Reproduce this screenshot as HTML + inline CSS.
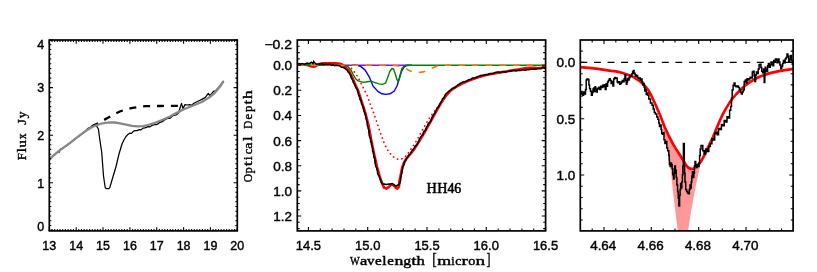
<!DOCTYPE html>
<html><head><meta charset="utf-8"><title>Spectra</title>
<style>
html,body{margin:0;padding:0;background:#fff;}
svg{display:block;will-change:transform;}
.t{font-family:"Liberation Sans",sans-serif;font-size:12.5px;fill:#000;stroke:#000;stroke-width:0.4px;}
.s{font-family:"Liberation Serif",serif;font-size:13.2px;fill:#000;stroke:#000;stroke-width:0.38px;}
</style></head><body>
<svg width="817" height="272" viewBox="0 0 817 272">
<rect x="0" y="0" width="817" height="272" fill="#fff"/>
<!-- panel 1 -->
<polyline points="90.8,126.9 98.3,123.1 107.4,118.1 113.0,114.9 119.8,111.5 126.0,109.4 132.5,107.9 139.0,106.8 145.7,106.2 152.0,106.0 159.8,106.0 170.0,105.8 178.0,105.8" fill="none" stroke="#000" stroke-width="2.3" stroke-dasharray="7,6.9" stroke-dashoffset="-1.2"/>
<polyline points="49.4,159.0 55.0,154.6 58.0,151.4 59.0,152.4 60.5,149.0 62.0,148.9 70.0,143.2 75.0,139.0 80.0,135.4 86.0,130.6 88.0,128.4 90.0,127.6 93.0,125.6 95.5,124.6 96.6,126.2 98.4,129.0 100.0,141.0 101.7,152.0 103.5,176.0 105.2,187.5 106.2,188.6 108.8,188.6 109.8,187.6 112.0,180.0 115.9,167.0 119.0,154.0 122.0,144.0 123.9,140.0 126.0,136.5 128.0,134.4 129.7,133.2 131.5,133.4 133.0,131.6 134.6,130.7 137.0,130.6 139.6,129.7 141.0,129.9 142.9,128.2 145.0,127.9 147.9,126.6 150.0,126.8 152.0,125.4 155.0,124.4 157.0,124.6 159.0,122.9 162.7,121.4 165.0,119.6 168.0,118.2 170.0,118.3 173.0,115.6 176.0,115.0 178.6,113.0 180.0,108.0 181.5,103.4 183.0,108.6 185.0,104.6 187.0,105.0 189.8,104.6 191.0,105.6 194.4,103.0 198.0,101.2 201.8,99.4 205.4,97.4 208.2,93.3 210.0,95.7 213.7,91.1 215.5,91.0 220.1,85.6 223.6,80.8" fill="none" stroke="#000" stroke-width="1.25" stroke-linejoin="round"/>
<polyline points="49.4,158.9 60.0,150.2 70.0,142.8 80.0,135.1 86.0,130.7 90.0,128.2 95.0,125.8 100.0,124.0 105.0,122.8 109.8,122.3 115.0,122.5 120.0,123.3 126.0,124.6 132.0,125.8 137.9,126.4 143.0,126.1 148.0,125.0 155.0,122.8 162.7,119.7 170.0,116.5 174.2,114.1 183.4,109.5 192.6,105.8 201.8,102.0 209.1,97.6 214.6,93.0 220.1,86.5 223.6,81.2" fill="none" stroke="#888" stroke-width="2.3" stroke-linejoin="round"/>
<path d="M49.3,230.9v-3.7M49.3,40.0v3.7M52.0,230.9v-2.0M52.0,40.0v2.0M54.7,230.9v-2.0M54.7,40.0v2.0M57.4,230.9v-2.0M57.4,40.0v2.0M60.0,230.9v-2.0M60.0,40.0v2.0M62.7,230.9v-2.0M62.7,40.0v2.0M65.4,230.9v-2.0M65.4,40.0v2.0M68.1,230.9v-2.0M68.1,40.0v2.0M70.8,230.9v-2.0M70.8,40.0v2.0M73.5,230.9v-2.0M73.5,40.0v2.0M76.2,230.9v-3.7M76.2,40.0v3.7M78.8,230.9v-2.0M78.8,40.0v2.0M81.5,230.9v-2.0M81.5,40.0v2.0M84.2,230.9v-2.0M84.2,40.0v2.0M86.9,230.9v-2.0M86.9,40.0v2.0M89.6,230.9v-2.0M89.6,40.0v2.0M92.3,230.9v-2.0M92.3,40.0v2.0M95.0,230.9v-2.0M95.0,40.0v2.0M97.6,230.9v-2.0M97.6,40.0v2.0M100.3,230.9v-2.0M100.3,40.0v2.0M103.0,230.9v-3.7M103.0,40.0v3.7M105.7,230.9v-2.0M105.7,40.0v2.0M108.4,230.9v-2.0M108.4,40.0v2.0M111.1,230.9v-2.0M111.1,40.0v2.0M113.8,230.9v-2.0M113.8,40.0v2.0M116.4,230.9v-2.0M116.4,40.0v2.0M119.1,230.9v-2.0M119.1,40.0v2.0M121.8,230.9v-2.0M121.8,40.0v2.0M124.5,230.9v-2.0M124.5,40.0v2.0M127.2,230.9v-2.0M127.2,40.0v2.0M129.9,230.9v-3.7M129.9,40.0v3.7M132.6,230.9v-2.0M132.6,40.0v2.0M135.2,230.9v-2.0M135.2,40.0v2.0M137.9,230.9v-2.0M137.9,40.0v2.0M140.6,230.9v-2.0M140.6,40.0v2.0M143.3,230.9v-2.0M143.3,40.0v2.0M146.0,230.9v-2.0M146.0,40.0v2.0M148.7,230.9v-2.0M148.7,40.0v2.0M151.4,230.9v-2.0M151.4,40.0v2.0M154.0,230.9v-2.0M154.0,40.0v2.0M156.7,230.9v-3.7M156.7,40.0v3.7M159.4,230.9v-2.0M159.4,40.0v2.0M162.1,230.9v-2.0M162.1,40.0v2.0M164.8,230.9v-2.0M164.8,40.0v2.0M167.5,230.9v-2.0M167.5,40.0v2.0M170.2,230.9v-2.0M170.2,40.0v2.0M172.8,230.9v-2.0M172.8,40.0v2.0M175.5,230.9v-2.0M175.5,40.0v2.0M178.2,230.9v-2.0M178.2,40.0v2.0M180.9,230.9v-2.0M180.9,40.0v2.0M183.6,230.9v-3.7M183.6,40.0v3.7M186.3,230.9v-2.0M186.3,40.0v2.0M189.0,230.9v-2.0M189.0,40.0v2.0M191.6,230.9v-2.0M191.6,40.0v2.0M194.3,230.9v-2.0M194.3,40.0v2.0M197.0,230.9v-2.0M197.0,40.0v2.0M199.7,230.9v-2.0M199.7,40.0v2.0M202.4,230.9v-2.0M202.4,40.0v2.0M205.1,230.9v-2.0M205.1,40.0v2.0M207.8,230.9v-2.0M207.8,40.0v2.0M210.4,230.9v-3.7M210.4,40.0v3.7M213.1,230.9v-2.0M213.1,40.0v2.0M215.8,230.9v-2.0M215.8,40.0v2.0M218.5,230.9v-2.0M218.5,40.0v2.0M221.2,230.9v-2.0M221.2,40.0v2.0M223.9,230.9v-2.0M223.9,40.0v2.0M226.6,230.9v-2.0M226.6,40.0v2.0M229.2,230.9v-2.0M229.2,40.0v2.0M231.9,230.9v-2.0M231.9,40.0v2.0M234.6,230.9v-2.0M234.6,40.0v2.0M237.3,230.9v-3.7M237.3,40.0v3.7M49.3,230.3h3.7M237.3,230.3h-3.7M49.3,225.5h2.0M237.3,225.5h-2.0M49.3,220.8h2.0M237.3,220.8h-2.0M49.3,216.0h2.0M237.3,216.0h-2.0M49.3,211.3h2.0M237.3,211.3h-2.0M49.3,206.5h2.0M237.3,206.5h-2.0M49.3,201.8h2.0M237.3,201.8h-2.0M49.3,197.0h2.0M237.3,197.0h-2.0M49.3,192.2h2.0M237.3,192.2h-2.0M49.3,187.5h2.0M237.3,187.5h-2.0M49.3,182.7h3.7M237.3,182.7h-3.7M49.3,178.0h2.0M237.3,178.0h-2.0M49.3,173.2h2.0M237.3,173.2h-2.0M49.3,168.5h2.0M237.3,168.5h-2.0M49.3,163.7h2.0M237.3,163.7h-2.0M49.3,158.9h2.0M237.3,158.9h-2.0M49.3,154.2h2.0M237.3,154.2h-2.0M49.3,149.4h2.0M237.3,149.4h-2.0M49.3,144.7h2.0M237.3,144.7h-2.0M49.3,139.9h2.0M237.3,139.9h-2.0M49.3,135.2h3.7M237.3,135.2h-3.7M49.3,130.4h2.0M237.3,130.4h-2.0M49.3,125.6h2.0M237.3,125.6h-2.0M49.3,120.9h2.0M237.3,120.9h-2.0M49.3,116.1h2.0M237.3,116.1h-2.0M49.3,111.4h2.0M237.3,111.4h-2.0M49.3,106.6h2.0M237.3,106.6h-2.0M49.3,101.8h2.0M237.3,101.8h-2.0M49.3,97.1h2.0M237.3,97.1h-2.0M49.3,92.3h2.0M237.3,92.3h-2.0M49.3,87.6h3.7M237.3,87.6h-3.7M49.3,82.8h2.0M237.3,82.8h-2.0M49.3,78.1h2.0M237.3,78.1h-2.0M49.3,73.3h2.0M237.3,73.3h-2.0M49.3,68.5h2.0M237.3,68.5h-2.0M49.3,63.8h2.0M237.3,63.8h-2.0M49.3,59.0h2.0M237.3,59.0h-2.0M49.3,54.3h2.0M237.3,54.3h-2.0M49.3,49.5h2.0M237.3,49.5h-2.0M49.3,44.8h2.0M237.3,44.8h-2.0M49.3,40.0h3.7M237.3,40.0h-3.7" stroke="#000" stroke-width="1.1" fill="none"/>
<rect x="49.3" y="40.0" width="188.0" height="190.9" fill="none" stroke="#000" stroke-width="1.7"/>
<text class="t" x="49.3" y="249.7" text-anchor="middle">13</text>
<text class="t" x="76.2" y="249.7" text-anchor="middle">14</text>
<text class="t" x="103.0" y="249.7" text-anchor="middle">15</text>
<text class="t" x="129.9" y="249.7" text-anchor="middle">16</text>
<text class="t" x="156.7" y="249.7" text-anchor="middle">17</text>
<text class="t" x="183.6" y="249.7" text-anchor="middle">18</text>
<text class="t" x="210.4" y="249.7" text-anchor="middle">19</text>
<text class="t" x="237.3" y="249.7" text-anchor="middle">20</text>
<text class="t" x="44.2" y="231.1" text-anchor="end">0</text>
<text class="t" x="44.2" y="187.5" text-anchor="end">1</text>
<text class="t" x="44.2" y="140.0" text-anchor="end">2</text>
<text class="t" x="44.2" y="92.4" text-anchor="end">3</text>
<text class="t" x="44.2" y="49.1" text-anchor="end">4</text>
<g transform="translate(26.2,0) rotate(-90)">
<text class="s" x="-160.2" y="0" textLength="7.3" lengthAdjust="spacingAndGlyphs">F</text>
<text class="s" x="-152.5" y="0" textLength="4.6" lengthAdjust="spacingAndGlyphs">l</text>
<text class="s" x="-147.5" y="0" textLength="7.3" lengthAdjust="spacingAndGlyphs">u</text>
<text class="s" x="-139.3" y="0" textLength="5.8" lengthAdjust="spacingAndGlyphs">x</text>
<text class="s" x="-124.8" y="0" textLength="5.6" lengthAdjust="spacingAndGlyphs">J</text>
<text class="s" x="-118.2" y="0" textLength="6.7" lengthAdjust="spacingAndGlyphs">y</text>
</g>
<g transform="translate(252.3,0) rotate(-90)">
<text class="s" x="-182.3" y="0" textLength="8.4" lengthAdjust="spacingAndGlyphs">O</text>
<text class="s" x="-173.5" y="0" textLength="6.2" lengthAdjust="spacingAndGlyphs">p</text>
<text class="s" x="-166.3" y="0" textLength="5.1" lengthAdjust="spacingAndGlyphs">t</text>
<text class="s" x="-160.3" y="0" textLength="4.0" lengthAdjust="spacingAndGlyphs">i</text>
<text class="s" x="-154.2" y="0" textLength="5.6" lengthAdjust="spacingAndGlyphs">c</text>
<text class="s" x="-148.8" y="0" textLength="6.2" lengthAdjust="spacingAndGlyphs">a</text>
<text class="s" x="-141.0" y="0" textLength="4.6" lengthAdjust="spacingAndGlyphs">l</text>
<text class="s" x="-128.7" y="0" textLength="8.0" lengthAdjust="spacingAndGlyphs">D</text>
<text class="s" x="-119.6" y="0" textLength="5.6" lengthAdjust="spacingAndGlyphs">e</text>
<text class="s" x="-112.1" y="0" textLength="6.4" lengthAdjust="spacingAndGlyphs">p</text>
<text class="s" x="-104.5" y="0" textLength="4.7" lengthAdjust="spacingAndGlyphs">t</text>
<text class="s" x="-99.0" y="0" textLength="8.7" lengthAdjust="spacingAndGlyphs">h</text>
</g>
<!-- panel 2 -->
<clipPath id="c2"><rect x="297.3" y="40.0" width="248.3" height="190.9"/></clipPath>
<g clip-path="url(#c2)" fill="none" stroke-linejoin="round">
<polyline points="297.3,64.6 306.0,64.8 309.0,65.6 311.5,66.5 313.5,66.7 315.5,66.2 317.5,65.0 320.0,63.8 323.0,63.3 330.0,63.2 336.0,63.3 340.0,63.8 342.5,64.8 344.2,66.2 345.5,67.6 348.3,70.0 350.2,73.3 352.4,77.8 354.6,83.0 358.0,90.5 361.6,101.5 365.6,114.0 368.2,124.0 371.8,143.1 374.4,155.5 377.0,166.8 379.8,177.0 382.4,184.0 384.0,187.6 386.3,188.6 388.5,187.4 390.5,185.2 392.0,184.4 394.0,185.6 396.0,188.0 397.5,188.6 399.0,186.4 399.5,181.0 400.5,176.2 402.1,168.0 403.9,163.0 406.1,159.0 411.0,153.2 414.5,148.6 419.0,141.6 424.4,132.5 430.0,122.6 436.6,110.6 441.0,103.0 446.5,95.0 451.0,90.2 456.4,86.6 463.0,83.0 469.7,80.2 478.0,77.2 486.2,75.0 494.0,73.4 502.8,72.0 511.0,70.6 519.3,69.4 525.0,68.4 530.0,67.8 534.0,67.9 538.0,68.2 542.0,67.8 545.6,67.4" stroke="#f00" stroke-width="2.6"/>
<polyline points="341.0,65.2 409.0,65.2" stroke="#8b12d8" stroke-width="1.6"/>
<polyline points="352.0,65.2 354.0,65.2 357.7,65.4 360.9,66.6 365.0,69.9 369.4,77.2 373.0,86.0 377.8,91.4 382.0,93.8 386.0,94.4 390.0,93.8 394.3,91.0 397.0,86.0 399.3,78.5 401.5,71.5 404.0,67.2 407.0,65.5 410.0,65.2 412.0,65.2" stroke="#0000ff" stroke-width="1.4"/>
<polyline points="297.3,65.2 343.0,65.2 345.0,65.4 348.0,66.8 350.9,69.9 353.8,75.7 356.0,79.2 358.2,80.9 362.6,82.2 366.0,82.0 368.5,81.5 371.5,81.4 375.0,82.6 379.0,83.9 382.5,84.4 385.5,83.2 387.3,78.5 389.8,71.5 392.0,68.3 393.5,69.0 395.3,74.0 396.9,79.5 397.9,81.0 398.9,80.0 400.3,74.5 401.9,68.5 404.3,65.8 406.0,65.2 545.6,65.2" stroke="#008000" stroke-width="1.4"/>
<polyline points="297.3,65.2 390.0,65.2 395.0,65.5 400.0,66.4 405.0,68.0 409.0,70.4 413.0,72.0 418.0,72.6 423.0,71.9 428.0,70.3 433.0,67.8 437.0,66.0 441.0,65.3 445.0,65.2 545.6,65.2" stroke="#f5780a" stroke-width="1.6" stroke-dasharray="6.5,7.15"/>
<polyline points="348.0,65.6 351.6,68.4 352.4,69.6 355.6,73.5 358.2,77.6 360.4,82.1 362.6,86.5 364.9,90.9 367.1,95.3 368.5,99.0 370.5,105.0 373.0,111.0 375.5,118.5 378.3,126.7 379.6,130.8 381.3,135.2 382.9,139.9 384.6,144.0 386.6,148.1 389.0,152.3 392.4,156.1 396.2,158.9 400.6,159.4 404.8,157.2 408.1,153.4 410.5,149.8 413.3,145.7 416.0,141.5 418.3,137.4 420.5,133.3 422.9,129.1 425.4,124.8 428.0,120.4 430.3,116.8 432.5,113.6 434.7,110.8 437.0,107.8" stroke="#f00" stroke-width="1.75" stroke-dasharray="0.1,4.4" stroke-linecap="round"/>
<polyline points="297.3,64.2 298.9,63.5 300.6,64.1 302.1,63.5 303.7,63.9 305.0,63.9 307.0,63.1 308.7,63.6 310.0,63.4 311.3,62.2 313.0,63.6 313.7,61.6 315.3,63.4 316.5,64.2 318.1,64.1 320.1,64.0 322.0,63.7 324.0,64.5 326.1,64.4 328.0,64.6 330.0,64.3 331.5,65.2 333.3,64.7 334.6,65.6 336.0,65.3 337.6,65.4 339.2,65.7 340.4,66.4 341.5,67.3 342.9,67.3 345.0,68.5 346.0,69.5 347.3,70.4 348.1,72.0 349.4,73.3 350.2,74.7 350.8,76.1 351.2,77.7 352.1,79.2 352.9,80.7 353.4,82.4 354.3,83.8 355.1,85.2 355.5,86.9 356.3,88.3 357.4,89.6 357.7,91.3 358.2,92.9 358.5,94.6 359.1,96.2 360.0,97.7 360.0,99.5 361.2,100.9 361.4,102.4 361.6,104.0 362.6,105.2 362.8,106.8 363.7,108.1 363.6,109.7 364.0,111.2 364.7,112.6 364.9,114.1 365.7,115.6 365.8,117.4 366.3,119.0 366.7,120.7 367.2,122.3 367.2,124.1 367.4,125.7 368.1,127.2 368.3,128.8 369.1,130.3 368.8,132.0 369.2,133.6 369.2,135.2 369.6,136.8 370.4,138.3 370.6,139.9 370.7,141.5 371.5,143.0 371.5,144.6 372.0,146.1 372.4,147.7 372.8,149.2 372.5,150.9 373.4,152.3 373.6,153.9 373.8,155.5 373.7,157.1 374.8,158.5 374.8,160.1 375.0,161.7 375.1,163.3 375.5,164.8 375.8,166.4 376.7,167.8 377.0,169.4 377.5,171.0 377.5,172.7 377.9,174.3 379.0,175.7 379.6,177.2 380.1,178.8 380.7,180.4 381.1,182.0 381.8,183.1 382.9,184.1 384.4,184.0 386.0,184.5 387.5,184.2 389.0,184.1 390.6,184.1 392.0,183.6 394.0,184.6 394.9,185.4 395.9,186.1 397.9,185.0 399.1,184.4 399.8,183.1 400.3,181.4 400.7,179.7 400.7,177.9 401.1,176.2 401.2,174.5 402.0,173.0 401.9,171.3 402.3,169.7 402.7,168.1 403.2,166.4 403.9,164.7 404.1,162.9 404.9,161.3 405.9,159.8 406.7,158.3 407.9,157.0 408.6,155.3 410.3,154.3 411.1,152.7 411.6,151.3 412.6,150.2 413.5,149.1 414.4,147.9 415.1,146.3 416.6,145.2 417.6,143.8 418.1,142.1 419.0,140.6 419.5,139.1 420.2,137.8 421.2,136.6 421.9,135.3 423.1,134.3 423.4,132.6 424.0,131.3 425.6,130.3 426.0,128.7 426.5,127.1 427.6,125.8 428.0,124.1 429.2,122.9 430.4,121.7 431.0,120.3 431.6,118.9 432.0,117.4 432.8,116.1 433.4,114.7 434.6,113.6 435.2,112.2 436.1,111.0 436.5,109.4 437.1,108.0 438.3,107.0 439.2,105.7 439.8,104.3 440.5,103.0 441.3,101.6 442.1,100.3 442.6,98.8 443.8,97.7 444.6,96.3 445.2,94.8 446.2,93.6 447.5,92.5 448.6,91.4 450.0,90.5 451.3,89.6 452.3,88.4 453.9,88.0 455.3,87.2 456.6,86.3 457.7,85.1 458.9,84.3 460.2,83.5 461.5,82.7 462.9,82.0 464.4,81.7 465.8,81.4 467.1,80.8 468.4,79.9 469.8,79.5 471.2,79.2 472.3,78.0 473.9,78.0 475.4,77.7 476.7,77.1 478.1,76.6 479.6,76.0 481.2,75.3 483.0,75.5 484.5,74.7 486.3,74.7 487.8,74.5 489.3,73.7 490.9,73.5 492.5,73.7 494.0,73.2 495.4,72.5 496.9,72.3 498.4,72.1 499.9,72.6 501.4,72.3 502.8,71.5 504.5,71.9 506.1,71.9 507.7,71.5 509.3,71.0 511.0,71.0 512.6,70.5 514.3,70.2 516.0,70.9 517.7,70.5 519.3,70.2 520.9,70.5 522.4,69.9 524.0,70.1 525.3,70.2 526.7,69.7 528.0,69.8 529.5,69.5 531.0,69.2 532.6,69.3 534.3,69.1 536.0,69.3 537.4,68.5 539.1,68.5 541.0,68.7 542.0,67.9 543.1,67.1 544.3,68.3 545.6,67.3" stroke="#000" stroke-width="1.55" stroke-linejoin="miter"/>
</g>
<path d="M308.4,230.9v-3.9M308.4,40.0v3.9M320.3,230.9v-2.4M320.3,40.0v2.4M332.1,230.9v-2.4M332.1,40.0v2.4M344.0,230.9v-2.4M344.0,40.0v2.4M355.8,230.9v-2.4M355.8,40.0v2.4M367.7,230.9v-3.9M367.7,40.0v3.9M379.6,230.9v-2.4M379.6,40.0v2.4M391.4,230.9v-2.4M391.4,40.0v2.4M403.3,230.9v-2.4M403.3,40.0v2.4M415.1,230.9v-2.4M415.1,40.0v2.4M427.0,230.9v-3.9M427.0,40.0v3.9M438.9,230.9v-2.4M438.9,40.0v2.4M450.7,230.9v-2.4M450.7,40.0v2.4M462.6,230.9v-2.4M462.6,40.0v2.4M474.4,230.9v-2.4M474.4,40.0v2.4M486.3,230.9v-3.9M486.3,40.0v3.9M498.2,230.9v-2.4M498.2,40.0v2.4M510.0,230.9v-2.4M510.0,40.0v2.4M521.9,230.9v-2.4M521.9,40.0v2.4M533.7,230.9v-2.4M533.7,40.0v2.4M545.6,230.9v-3.9M545.6,40.0v3.9M297.3,46.3h2.4M545.6,46.3h-2.4M297.3,52.6h2.4M545.6,52.6h-2.4M297.3,58.9h2.4M545.6,58.9h-2.4M297.3,65.2h3.9M545.6,65.2h-3.9M297.3,71.5h2.4M545.6,71.5h-2.4M297.3,77.8h2.4M545.6,77.8h-2.4M297.3,84.1h2.4M545.6,84.1h-2.4M297.3,90.3h3.9M545.6,90.3h-3.9M297.3,96.6h2.4M545.6,96.6h-2.4M297.3,102.9h2.4M545.6,102.9h-2.4M297.3,109.2h2.4M545.6,109.2h-2.4M297.3,115.5h3.9M545.6,115.5h-3.9M297.3,121.8h2.4M545.6,121.8h-2.4M297.3,128.1h2.4M545.6,128.1h-2.4M297.3,134.3h2.4M545.6,134.3h-2.4M297.3,140.6h3.9M545.6,140.6h-3.9M297.3,146.9h2.4M545.6,146.9h-2.4M297.3,153.2h2.4M545.6,153.2h-2.4M297.3,159.5h2.4M545.6,159.5h-2.4M297.3,165.8h3.9M545.6,165.8h-3.9M297.3,172.0h2.4M545.6,172.0h-2.4M297.3,178.3h2.4M545.6,178.3h-2.4M297.3,184.6h2.4M545.6,184.6h-2.4M297.3,190.9h3.9M545.6,190.9h-3.9M297.3,197.2h2.4M545.6,197.2h-2.4M297.3,203.5h2.4M545.6,203.5h-2.4M297.3,209.8h2.4M545.6,209.8h-2.4M297.3,216.0h3.9M545.6,216.0h-3.9M297.3,222.3h2.4M545.6,222.3h-2.4M297.3,228.6h2.4M545.6,228.6h-2.4" stroke="#000" stroke-width="1.1" fill="none"/>
<rect x="297.3" y="40.0" width="248.3" height="190.9" fill="none" stroke="#000" stroke-width="1.7"/>
<text class="t" x="295.8" y="249.8" textLength="25.3" lengthAdjust="spacingAndGlyphs">14.5</text>
<text class="t" x="355.1" y="249.8" textLength="25.3" lengthAdjust="spacingAndGlyphs">15.0</text>
<text class="t" x="414.4" y="249.8" textLength="25.3" lengthAdjust="spacingAndGlyphs">15.5</text>
<text class="t" x="473.6" y="249.8" textLength="25.3" lengthAdjust="spacingAndGlyphs">16.0</text>
<text class="t" x="532.9" y="249.8" textLength="25.3" lengthAdjust="spacingAndGlyphs">16.5</text>
<text class="t" x="264.4" y="49.2" textLength="27.6" lengthAdjust="spacingAndGlyphs">−0.2</text>
<text class="t" x="273.2" y="70.1" textLength="18.8" lengthAdjust="spacingAndGlyphs">0.0</text>
<text class="t" x="273.2" y="95.2" textLength="18.8" lengthAdjust="spacingAndGlyphs">0.2</text>
<text class="t" x="273.2" y="120.4" textLength="18.8" lengthAdjust="spacingAndGlyphs">0.4</text>
<text class="t" x="273.2" y="145.5" textLength="18.8" lengthAdjust="spacingAndGlyphs">0.6</text>
<text class="t" x="273.2" y="170.7" textLength="18.8" lengthAdjust="spacingAndGlyphs">0.8</text>
<text class="t" x="273.2" y="195.8" textLength="18.8" lengthAdjust="spacingAndGlyphs">1.0</text>
<text class="t" x="273.2" y="220.9" textLength="18.8" lengthAdjust="spacingAndGlyphs">1.2</text>
<text class="s" transform="translate(252.3,137) rotate(-90)" text-anchor="middle"></text>
<text class="s" x="349.9" y="264.6" style="font-size:13.2px;stroke-width:0.42px" textLength="9.7" lengthAdjust="spacingAndGlyphs">W</text>
<text class="s" x="359.9" y="264.6" style="font-size:13.2px;stroke-width:0.42px" textLength="7.3" lengthAdjust="spacingAndGlyphs">a</text>
<text class="s" x="367.1" y="264.6" style="font-size:13.2px;stroke-width:0.42px" textLength="7.5" lengthAdjust="spacingAndGlyphs">v</text>
<text class="s" x="374.9" y="264.6" style="font-size:13.2px;stroke-width:0.42px" textLength="6.7" lengthAdjust="spacingAndGlyphs">e</text>
<text class="s" x="382.2" y="264.6" style="font-size:13.2px;stroke-width:0.42px" textLength="4.3" lengthAdjust="spacingAndGlyphs">l</text>
<text class="s" x="387.2" y="264.6" style="font-size:13.2px;stroke-width:0.42px" textLength="6.6" lengthAdjust="spacingAndGlyphs">e</text>
<text class="s" x="394.4" y="264.6" style="font-size:13.2px;stroke-width:0.42px" textLength="8.9" lengthAdjust="spacingAndGlyphs">n</text>
<text class="s" x="403.2" y="264.6" style="font-size:13.2px;stroke-width:0.42px" textLength="8.0" lengthAdjust="spacingAndGlyphs">g</text>
<text class="s" x="411.2" y="264.6" style="font-size:13.2px;stroke-width:0.42px" textLength="5.3" lengthAdjust="spacingAndGlyphs">t</text>
<text class="s" x="416.5" y="264.6" style="font-size:13.2px;stroke-width:0.42px" textLength="8.3" lengthAdjust="spacingAndGlyphs">h</text>
<text class="s" x="432.2" y="264.6" style="font-size:17px;stroke-width:0.42px" textLength="4.4" lengthAdjust="spacingAndGlyphs">[</text>
<text class="s" x="437.2" y="264.6" style="font-size:13.2px;stroke-width:0.42px" textLength="13.9" lengthAdjust="spacingAndGlyphs">m</text>
<text class="s" x="451.3" y="264.6" style="font-size:13.2px;stroke-width:0.42px" textLength="3.4" lengthAdjust="spacingAndGlyphs">i</text>
<text class="s" x="455.2" y="264.6" style="font-size:13.2px;stroke-width:0.42px" textLength="6.0" lengthAdjust="spacingAndGlyphs">c</text>
<text class="s" x="461.5" y="264.6" style="font-size:13.2px;stroke-width:0.42px" textLength="6.4" lengthAdjust="spacingAndGlyphs">r</text>
<text class="s" x="468.2" y="264.6" style="font-size:13.2px;stroke-width:0.42px" textLength="7.0" lengthAdjust="spacingAndGlyphs">o</text>
<text class="s" x="475.6" y="264.6" style="font-size:13.2px;stroke-width:0.42px" textLength="9.6" lengthAdjust="spacingAndGlyphs">n</text>
<text class="s" x="486.5" y="264.6" style="font-size:17px;stroke-width:0.42px" textLength="4.0" lengthAdjust="spacingAndGlyphs">]</text>
<text class="s" x="426.6" y="192.9" style="font-size:13.8px;stroke-width:0.5px" textLength="10.3" lengthAdjust="spacingAndGlyphs">H</text>
<text class="s" x="437.2" y="192.9" style="font-size:13.8px;stroke-width:0.5px" textLength="10.2" lengthAdjust="spacingAndGlyphs">H</text>
<text class="s" x="447.4" y="192.9" style="font-size:13.8px;stroke-width:0.5px" textLength="6.9" lengthAdjust="spacingAndGlyphs">4</text>
<text class="s" x="454.2" y="192.9" style="font-size:13.8px;stroke-width:0.5px" textLength="7.0" lengthAdjust="spacingAndGlyphs">6</text>
<!-- panel 3 -->
<clipPath id="c3"><rect x="580.3" y="40.0" width="212.8" height="190.9"/></clipPath>
<g clip-path="url(#c3)" fill="none" stroke-linejoin="round">
<polygon points="661.0,118.5 662.4,126.0 665.0,140.0 667.2,150.0 669.5,160.0 671.2,175.0 673.0,192.0 675.2,210.0 677.8,231.2 687.9,231.2 691.0,212.0 694.6,192.0 697.5,178.0 699.6,168.0 700.8,161.6 698.6,164.4 696.0,167.0 693.6,168.6 691.0,168.9 688.5,167.8 686.0,165.1 683.5,160.8 680.7,156.3 677.0,150.6 673.4,144.6 669.0,136.5 664.6,126.8" fill="#ff9999" stroke="none"/>
<path d="M580.4,62.3H793.1" stroke="#000" stroke-width="1.2" stroke-dasharray="6.9,6.675"/>
<polyline points="580.2,67.2 596.4,68.6 611.0,70.8 616.0,71.4 621.9,72.7 627.8,74.8 633.6,77.0 639.5,80.8 644.6,85.5 648.5,90.4 651.0,95.0 655.6,104.8 660.0,115.0 664.6,126.8 669.0,136.5 673.4,144.6 677.0,150.6 680.7,156.3 683.5,160.8 686.0,165.1 688.5,167.8 691.0,168.9 693.6,168.6 696.0,167.0 698.6,164.4 701.5,160.6 704.7,154.6 707.3,149.0 710.1,143.2 713.0,137.0 716.5,128.6 720.0,120.2 723.1,113.6 726.5,107.6 729.8,102.4 733.0,98.0 736.4,94.0 740.5,89.8 744.7,86.0 749.5,82.4 754.6,79.2 759.5,76.8 764.5,74.9 771.0,72.9 777.8,71.4 785.0,70.1 793.5,68.8" stroke="#f00" stroke-width="2.7"/>
<path d="M580.3,94.0H580.6V93.1H581.4V91.6H582.1V94.6H582.9V95.3H583.7V92.1H584.6V94.1H585.5V89.4H586.2V79.9H587.0V79.1H588.0V79.4H588.9V85.0H589.6V88.7H590.5V91.2H591.4V95.3H592.3V92.6H593.0V89.1H593.7V87.9H594.5V91.6H595.1V86.8H595.6V89.4H596.4V92.1H597.3V88.2H598.1V89.1H599.0V87.2H599.9V89.4H600.8V86.2H601.7V87.4H602.6V85.3H603.4V86.8H604.3V84.7H605.2V89.4H606.1V83.8H606.8V86.2H607.6V82.1H608.4V80.6H609.3V78.8H610.2V80.6H611.1V83.5H612.0V81.5H612.9V85.9H613.7V79.1H614.6V77.4H615.5V78.2H616.4V77.9H617.2V82.1H617.9V82.8H618.8V81.8H619.7V84.3H620.6V83.2H621.4V82.1H622.3V80.6H623.2V81.8H624.1V78.8H625.0V74.7H625.7V80.6H626.3V84.3H626.9V82.1H627.5V78.4H628.2V79.9H629.1V77.6H630.0V75.4H630.9V76.2H631.7V74.0H632.6V71.8H633.4V70.6H634.1V73.2H635.0V74.7H635.9V76.2H636.7V75.4H637.6V77.4H638.5V78.4H639.4V77.9H640.3V79.9H641.1V79.1H642.0V82.1H642.8V85.0H643.5V83.5H644.2V87.2H644.8V90.9H645.6V89.4H646.3V94.6H647.0V93.1H647.9V95.3H648.8V99.0H650.4V103.1H652.0V105.3H653.2V109.0H654.3V112.6H655.4V114.1H656.8V117.1H657.9V119.3H658.8V122.9H659.5V126.6H660.4V125.1H661.1V129.6H661.7V133.2H662.4V134.2H663.3V132.4H664.0V139.7H664.9V143.4H666.0V141.5H666.8V148.0H667.7V150.7H668.8V155.3H669.2V160.0H669.4V164.4H670.1V166.6H670.9V162.9H671.5V164.4H672.1V168.8H672.8V174.7H673.5V179.1H674.1V173.2H674.7V165.9H675.4V170.3H676.2V177.6H676.9V185.0H677.6V191.6H678.2V198.2H678.9V206.0H679.6V195.3H680.1V189.4H680.6V183.5H681.2V187.9H681.8V182.1H682.4V174.7H682.9V165.9H683.4V143.6H683.9V143.6H684.3V165.9H684.6V173.2H685.0V182.1H685.7V189.4H686.6V191.6H687.5V193.1H688.4V193.8H689.3V189.4H690.0V185.0H690.6V187.9H691.2V182.1H691.8V176.2H692.4V171.8H693.1V177.6H693.8V173.2H694.4V165.9H695.0V161.5H695.7V164.4H696.5V167.4H697.2V164.4H698.1V166.6H699.0V162.9H699.6V155.4H700.2V148.9H701.0V145.4H701.8V145.6H702.8V150.8H704.1V154.1H705.6V149.0H707.2V151.5H708.8V146.4H710.3V143.8H711.9V138.7H713.4V140.0H714.7V133.5H716.0V132.2H717.2V134.8H718.5V128.4H720.1V129.6H721.4V124.5H722.6V125.8H724.2V120.6H725.8V121.9H727.0V116.8H728.4V118.0H729.6V110.3H730.7V106.4H731.5V98.0H732.2V90.0H733.1V85.3H734.1V83.1H735.0V86.0H736.0V86.8H737.2V86.0H738.4V87.5H739.5V90.0H740.6V92.6H741.4V94.1H742.3V91.9H743.2V90.0H744.2V81.6H745.3V80.1H746.1V83.1H747.0V78.7H747.9V80.1H748.9V78.7H750.1V77.2H751.3V77.9H752.3V72.1H753.2V71.3H754.1V75.7H754.8V81.6H755.6V75.0H756.4V72.1H757.3V73.5H758.2V69.1H759.1V64.7H760.0V64.3H760.9V67.6H761.7V71.3H762.6V72.8H763.5V69.1H764.2V82.4H764.8V72.1H765.2V67.2H765.8V69.4H766.7V71.6H767.6V65.7H768.4V63.5H769.3V67.2H770.2V65.0H771.1V62.1H772.0V64.3H772.9V65.7H773.7V60.6H774.6V62.1H775.5V59.1H776.4V59.9H777.3V62.8H778.1V59.1H779.0V62.1H779.9V65.0H780.8V68.7H781.7V66.5H782.6V63.5H783.4V60.6H784.3V62.8H785.2V59.1H786.1V57.6H787.0V54.0H787.9V56.2H788.7V62.1H789.6V59.1H790.5V55.4H791.4V60.6H792.3V64.3H793.0V62.1H793.3" stroke="#000" stroke-width="1.5" stroke-linejoin="miter"/>
</g>
<path d="M592.2,230.9v-2.4M592.2,40.0v2.4M604.0,230.9v-3.9M604.0,40.0v3.9M615.8,230.9v-2.4M615.8,40.0v2.4M627.7,230.9v-2.4M627.7,40.0v2.4M639.5,230.9v-2.4M639.5,40.0v2.4M651.3,230.9v-3.9M651.3,40.0v3.9M663.2,230.9v-2.4M663.2,40.0v2.4M675.0,230.9v-2.4M675.0,40.0v2.4M686.8,230.9v-2.4M686.8,40.0v2.4M698.7,230.9v-3.9M698.7,40.0v3.9M710.5,230.9v-2.4M710.5,40.0v2.4M722.3,230.9v-2.4M722.3,40.0v2.4M734.2,230.9v-2.4M734.2,40.0v2.4M746.0,230.9v-3.9M746.0,40.0v3.9M757.8,230.9v-2.4M757.8,40.0v2.4M769.7,230.9v-2.4M769.7,40.0v2.4M781.5,230.9v-2.4M781.5,40.0v2.4M580.3,51.1h2.4M793.1,51.1h-2.4M580.3,62.4h3.9M793.1,62.4h-3.9M580.3,73.7h2.4M793.1,73.7h-2.4M580.3,84.9h2.4M793.1,84.9h-2.4M580.3,96.2h2.4M793.1,96.2h-2.4M580.3,107.4h2.4M793.1,107.4h-2.4M580.3,118.7h3.9M793.1,118.7h-3.9M580.3,130.0h2.4M793.1,130.0h-2.4M580.3,141.2h2.4M793.1,141.2h-2.4M580.3,152.5h2.4M793.1,152.5h-2.4M580.3,163.7h2.4M793.1,163.7h-2.4M580.3,175.0h3.9M793.1,175.0h-3.9M580.3,186.3h2.4M793.1,186.3h-2.4M580.3,197.5h2.4M793.1,197.5h-2.4M580.3,208.8h2.4M793.1,208.8h-2.4M580.3,220.0h2.4M793.1,220.0h-2.4" stroke="#000" stroke-width="1.1" fill="none"/>
<rect x="685.6" y="225.5" width="2.6" height="4.5" fill="#ff9999"/>
<rect x="580.3" y="40.0" width="212.8" height="190.9" fill="none" stroke="#000" stroke-width="1.7"/>
<text class="t" x="590.2" y="249.8" textLength="26.1" lengthAdjust="spacingAndGlyphs">4.64</text>
<text class="t" x="637.6" y="249.8" textLength="26.1" lengthAdjust="spacingAndGlyphs">4.66</text>
<text class="t" x="684.9" y="249.8" textLength="26.1" lengthAdjust="spacingAndGlyphs">4.68</text>
<text class="t" x="732.3" y="249.8" textLength="26.1" lengthAdjust="spacingAndGlyphs">4.70</text>
<text class="t" x="556.4" y="67.3" textLength="18.8" lengthAdjust="spacingAndGlyphs">0.0</text>
<text class="t" x="556.4" y="123.6" textLength="18.8" lengthAdjust="spacingAndGlyphs">0.5</text>
<text class="t" x="556.4" y="179.9" textLength="18.8" lengthAdjust="spacingAndGlyphs">1.0</text>
</svg>
</body></html>
